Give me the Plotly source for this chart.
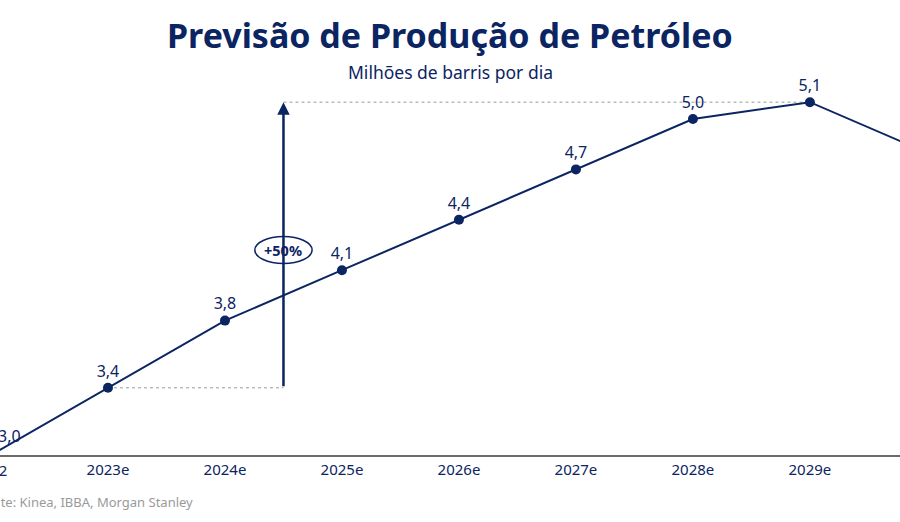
import plotly.graph_objects as go

# producao de petroleo, milhoes de barris por dia
anos = ["2022", "2023e", "2024e", "2025e", "2026e", "2027e", "2028e", "2029e", "2030e"]
producao = [3.0, 3.4, 3.8, 4.1, 4.4, 4.7, 5.0, 5.1, 4.8]

azul = "#0b2462"
cinza = "#9a9a9a"
fonte = "Noto Sans"
idx = list(range(len(anos)))

def rotulo(v):
    return f"{v:.1f}".replace(".", ",")

fig = go.Figure()
fig.add_trace(go.Scatter(
    x=idx, y=producao, mode="lines+markers+text",
    line=dict(color=azul, width=2),
    marker=dict(color=azul, size=10),
    text=[rotulo(v) for v in producao], textposition="top center",
    textfont=dict(color=azul, size=16, family=fonte),
    cliponaxis=False, hoverinfo="skip",
))

# linha do 2023e ate a seta, e da seta ate o pico
pico = max(producao)
i_pico = producao.index(pico)
fig.add_shape(type="line", x0=1, x1=2.5, y0=producao[1], y1=producao[1],
              line=dict(color=cinza, width=1, dash="dot"), layer="below")
fig.add_shape(type="line", x0=2.5, x1=i_pico, y0=pico, y1=pico,
              line=dict(color=cinza, width=1, dash="dot"), layer="below")

# seta vertical +50%
fig.add_annotation(x=2.5, y=pico, ax=2.5, ay=producao[1], axref="x", ayref="y",
                   text="", showarrow=True, arrowhead=2, arrowsize=1,
                   arrowwidth=2.5, arrowcolor=azul, standoff=0)
fig.add_shape(type="circle", x0=2.5 - 0.245, x1=2.5 + 0.245, y0=4.14, y1=4.30,
              line=dict(color=azul, width=1.5), fillcolor="white", layer="above")
fig.add_annotation(x=2.5, y=4.22, text="<b>+50%</b>", showarrow=False,
                   font=dict(color=azul, size=14.5, family=fonte))

# primeiro ano fica na borda: rotulo e tick escritos a parte
fig.add_annotation(xref="paper", yref="paper", x=0.011, y=0.051,
                   xanchor="center", yanchor="middle",
                   text=rotulo(producao[0]), showarrow=False,
                   font=dict(color=azul, size=16, family=fonte))
fig.add_annotation(xref="paper", yref="paper", x=-0.0106, y=-0.04,
                   xanchor="center", yanchor="middle",
                   text=anos[0], showarrow=False,
                   font=dict(color=azul, size=15, family=fonte))

fig.add_annotation(xref="paper", yref="paper", x=0.5, y=1.12, yanchor="middle",
                   text="<b>Previsão de Produção de Petróleo</b>", showarrow=False,
                   font=dict(color=azul, size=34, family=fonte))
fig.add_annotation(xref="paper", yref="paper", x=0.5, y=1.021, yanchor="middle",
                   text="Milhões de barris por dia", showarrow=False,
                   font=dict(color=azul, size=17.5, family=fonte))
fig.add_annotation(xref="paper", yref="paper", x=-0.027, y=-0.125,
                   xanchor="left", yanchor="middle",
                   text="Fonte: Kinea, IBBA, Morgan Stanley", showarrow=False,
                   font=dict(color=cinza, size=13, family=fonte))

fig.update_layout(
    width=900, height=522, margin=dict(l=0, r=0, t=80, b=67),
    plot_bgcolor="white", paper_bgcolor="white", showlegend=False,
    xaxis=dict(tickvals=idx, ticktext=anos, range=[0.077, 7.77],
               showgrid=False, zeroline=False, showline=True,
               linecolor="#6b6b6b", linewidth=2,
               tickfont=dict(color=azul, size=15, family=fonte)),
    yaxis=dict(range=[3.0, 5.232], visible=False),
)

# sem a margem padrao do body o grafico ocupa a janela inteira
fig.write_html("out.html", config={"displayModeBar": False},
               post_script="document.body.style.margin='0';")
